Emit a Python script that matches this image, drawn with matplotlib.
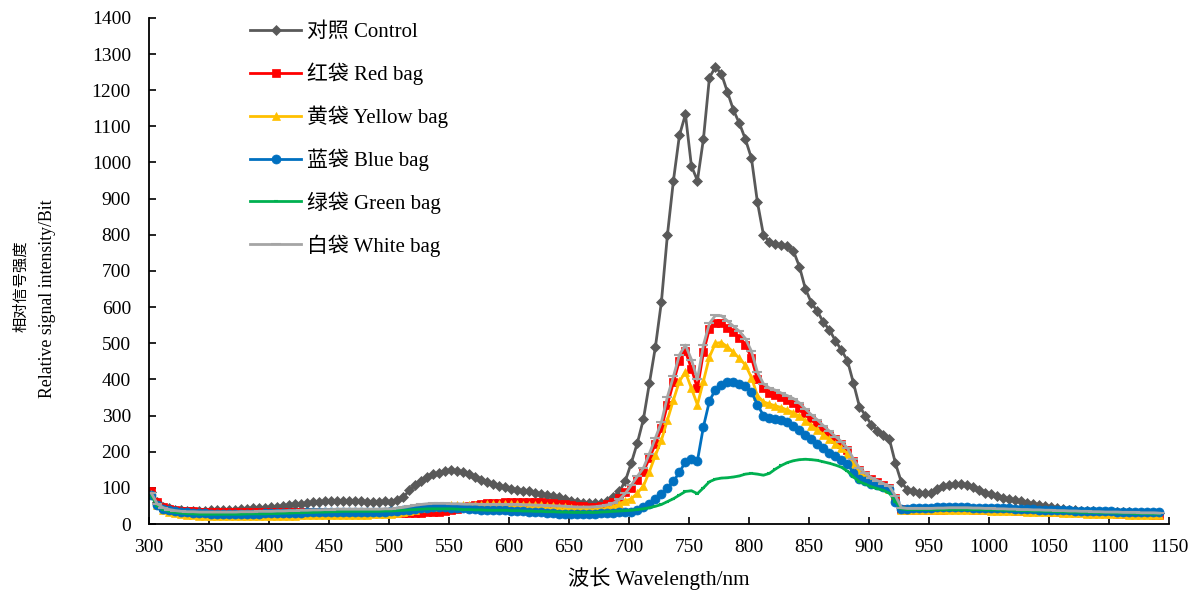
import numpy as np
import matplotlib
matplotlib.use('Agg')
import matplotlib.pyplot as plt

plt.rcParams['font.family'] = ['Liberation Serif', 'Noto Sans CJK SC']

# wavelength grid (nm)
wavelength = np.arange(302, 1143, 5)

# relative signal intensity (Bit), 10 values per row
control = [
    88, 60, 48, 43, 40, 38, 37, 37, 37, 37,
    38, 38, 39, 40, 40, 41, 42, 43, 44, 45,
    46, 48, 50, 52, 54, 56, 58, 60, 62, 63,
    64, 65, 65, 64, 64, 63, 62, 62, 62, 63,
    62, 66, 75, 93, 108, 120, 130, 138, 142, 146,
    148, 147, 143, 137, 130, 122, 116, 110, 105, 101,
    98, 95, 92, 90, 87, 84, 81, 78, 74, 70,
    65, 61, 59, 57, 57, 59, 63, 75, 90, 120,
    170, 225, 290, 390, 490, 615, 800, 950, 1075, 1133,
    990, 950, 1065, 1235, 1264, 1245, 1195, 1145, 1108, 1064,
    1012, 890, 800, 780, 775, 772, 768, 755, 712, 650,
    612, 588, 558, 537, 507, 481, 452, 390, 325, 300,
    275, 258, 246, 234, 168, 115, 95, 90, 87, 86,
    86, 96, 104, 108, 110, 112, 108, 103, 94, 87,
    82, 77, 73, 70, 66, 63, 59, 56, 52, 49,
    47, 44, 42, 40, 38, 37, 36, 35, 34, 33,
    33, 32, 32, 32, 31, 31, 31, 31, 30]
red_bag = [
    90, 60, 48, 42, 39, 37, 36, 35, 34, 34,
    33, 33, 33, 32, 32, 32, 32, 32, 32, 32,
    32, 32, 32, 33, 33, 33, 33, 33, 33, 33,
    33, 33, 33, 33, 33, 33, 33, 33, 33, 33,
    32, 31, 30, 30, 30, 31, 32, 33, 34, 36,
    38, 42, 46, 50, 53, 55, 57, 58, 59, 60,
    60, 61, 61, 61, 60, 60, 59, 58, 56, 54,
    52, 50, 49, 48, 48, 50, 54, 60, 72, 88,
    100, 122, 145, 182, 222, 265, 330, 392, 452, 478,
    430, 375, 475, 540, 557, 555, 543, 530, 515, 495,
    460, 400, 375, 363, 356, 350, 343, 335, 322, 308,
    292, 278, 263, 248, 234, 220, 205, 175, 150, 136,
    124, 116, 108, 100, 72, 42, 40, 40, 40, 40,
    40, 40, 40, 41, 41, 41, 41, 40, 40, 40,
    39, 39, 38, 38, 37, 37, 36, 36, 35, 35,
    34, 34, 33, 33, 32, 32, 31, 31, 30, 30,
    30, 29, 29, 28, 28, 27, 27, 26, 26]
yellow_bag = [
    82, 52, 40, 34, 30, 27, 25, 24, 23, 22,
    22, 21, 21, 21, 21, 21, 21, 22, 22, 22,
    22, 22, 23, 23, 23, 24, 24, 24, 25, 25,
    25, 25, 26, 26, 26, 26, 26, 27, 27, 28,
    29, 31, 34, 37, 40, 43, 46, 48, 50, 51,
    52, 53, 53, 53, 53, 53, 54, 54, 54, 54,
    54, 54, 53, 53, 52, 52, 51, 50, 48, 46,
    44, 42, 41, 40, 40, 41, 44, 48, 56, 64,
    70, 86, 105, 145, 190, 232, 288, 343, 395, 420,
    375, 330, 395, 462, 500, 502, 490, 475, 458, 440,
    405, 355, 338, 332, 327, 322, 315, 308, 298, 285,
    272, 260, 247, 235, 222, 210, 195, 165, 143, 130,
    120, 112, 104, 96, 68, 40, 38, 38, 38, 38,
    38, 38, 38, 39, 39, 39, 39, 38, 38, 38,
    37, 37, 36, 36, 35, 35, 34, 34, 33, 33,
    32, 32, 31, 31, 30, 30, 29, 29, 28, 28,
    28, 27, 27, 26, 26, 25, 25, 24, 24]
blue_bag = [
    80, 52, 42, 38, 35, 33, 32, 31, 30, 30,
    29, 29, 29, 29, 29, 29, 29, 29, 29, 30,
    30, 30, 30, 31, 31, 31, 32, 32, 32, 33,
    33, 33, 33, 33, 33, 33, 33, 33, 34, 34,
    35, 36, 38, 40, 42, 44, 45, 46, 46, 46,
    45, 44, 43, 42, 41, 40, 39, 39, 38, 38,
    37, 36, 35, 34, 33, 32, 31, 30, 29, 29,
    28, 28, 28, 29, 29, 30, 31, 31, 32, 33,
    34, 39, 46, 56, 68, 83, 100, 118, 143, 172,
    180, 175, 269, 340, 372, 385, 394, 392, 388, 382,
    365, 330, 300, 292, 290, 288, 283, 272, 260, 247,
    235, 222, 210, 197, 187, 177, 165, 142, 125, 118,
    112, 107, 102, 96, 62, 42, 42, 44, 45, 45,
    45, 46, 46, 46, 46, 46, 46, 45, 45, 45,
    44, 44, 43, 43, 42, 42, 41, 41, 40, 40,
    39, 39, 38, 38, 37, 37, 36, 36, 35, 35,
    35, 34, 34, 34, 33, 33, 33, 32, 32]
green_bag = [
    78, 50, 40, 35, 32, 30, 29, 28, 27, 27,
    27, 27, 27, 27, 27, 27, 28, 28, 28, 28,
    29, 29, 30, 30, 31, 31, 32, 32, 33, 33,
    34, 34, 35, 35, 35, 35, 35, 35, 35, 36,
    36, 37, 38, 39, 40, 41, 42, 42, 42, 42,
    42, 41, 40, 40, 39, 39, 38, 38, 38, 38,
    37, 37, 36, 36, 35, 35, 34, 34, 33, 33,
    32, 32, 32, 32, 32, 33, 34, 35, 36, 37,
    38, 40, 42, 45, 49, 54, 62, 70, 80, 90,
    92, 84, 100, 117, 124, 127, 128, 130, 133, 138,
    140, 138, 135, 140, 152, 162, 170, 175, 178, 179,
    178, 176, 172, 168, 163, 157, 146, 130, 117, 110,
    103, 98, 93, 85, 62, 42, 40, 40, 40, 40,
    40, 40, 40, 40, 40, 40, 40, 40, 40, 39,
    39, 39, 38, 38, 38, 37, 37, 36, 36, 35,
    35, 34, 34, 33, 33, 32, 32, 32, 31, 31,
    31, 30, 30, 30, 29, 29, 29, 28, 28]
white_bag = [
    85, 55, 45, 40, 37, 35, 34, 34, 33, 33,
    33, 33, 33, 33, 33, 34, 34, 34, 35, 35,
    35, 36, 36, 37, 37, 38, 38, 39, 39, 40,
    40, 41, 41, 41, 41, 41, 41, 41, 41, 42,
    42, 44, 46, 49, 52, 54, 56, 57, 57, 57,
    56, 56, 55, 55, 55, 54, 54, 54, 54, 54,
    54, 54, 53, 53, 52, 52, 51, 50, 50, 49,
    48, 47, 47, 47, 48, 50, 53, 58, 68, 85,
    108, 132, 155, 195, 238, 282, 352, 408, 468, 495,
    455, 400, 495, 555, 577, 576, 562, 547, 533, 513,
    478, 420, 388, 376, 370, 362, 355, 347, 335, 318,
    302, 288, 272, 257, 242, 228, 210, 180, 155, 140,
    128, 120, 112, 104, 78, 45, 43, 43, 43, 43,
    43, 44, 44, 45, 45, 45, 45, 44, 44, 43,
    43, 42, 42, 41, 41, 40, 40, 39, 39, 38,
    38, 37, 37, 36, 36, 35, 35, 34, 34, 33,
    33, 33, 32, 32, 32, 31, 31, 31, 30]

labels = ['对照 Control', '红袋 Red bag', '黄袋 Yellow bag',
          '蓝袋 Blue bag', '绿袋 Green bag', '白袋 White bag']


def plot_spectra():
    fig = plt.figure(figsize=(11.94, 5.99), dpi=100)
    ax = fig.add_axes([0.1248, 0.1252, 0.8543, 0.845])

    series = [control, red_bag, yellow_bag, blue_bag, green_bag, white_bag]
    styles = [  # color, marker, marker size
        ('#595959', 'D', 5.5),
        ('#FF0000', 's', 5.5),
        ('#FFC000', '^', 6),
        ('#0070C0', 'o', 6.5),
        ('#00B050', '_', 3),
        ('#A5A5A5', '_', 7),
    ]
    for values, label, (color, marker, size) in zip(series, labels, styles):
        ax.plot(wavelength, values, color=color, lw=2, marker=marker,
                markersize=size, markeredgewidth=1.5 if marker == '_' else 0.5,
                label=label)

    ax.set_xlim(300, 1150)
    ax.set_ylim(0, 1400)
    ax.set_xticks(np.arange(300, 1151, 50))
    ax.set_yticks(np.arange(0, 1401, 100))
    ax.tick_params(axis='both', direction='in', length=5, width=1.2,
                   labelsize=14, colors='black')
    ax.tick_params(axis='y', pad=13)
    ax.tick_params(axis='x', pad=11)
    for side in ['top', 'right']:
        ax.spines[side].set_visible(False)
    for side in ['left', 'bottom']:
        ax.spines[side].set_linewidth(1.3)

    ax.set_xlabel('波长 Wavelength/nm', fontsize=15.3, labelpad=8)
    # y title: two lines, the Chinese one is set smaller
    fig.text(0.0178, 0.522, '相对信号强度', rotation=90, ha='center',
             va='center', fontsize=11)
    fig.text(0.0395, 0.502, 'Relative signal intensity/Bit', rotation=90,
             ha='center', va='center', fontsize=12.8)

    ax.legend(loc='upper left', bbox_to_anchor=(0.2027, 0.976),
              bbox_transform=fig.transFigure, frameon=False, fontsize=15,
              handlelength=2.45, handletextpad=0.25, labelspacing=0.98,
              borderaxespad=0)

    fig.savefig('out.png', dpi=100)


plot_spectra()
